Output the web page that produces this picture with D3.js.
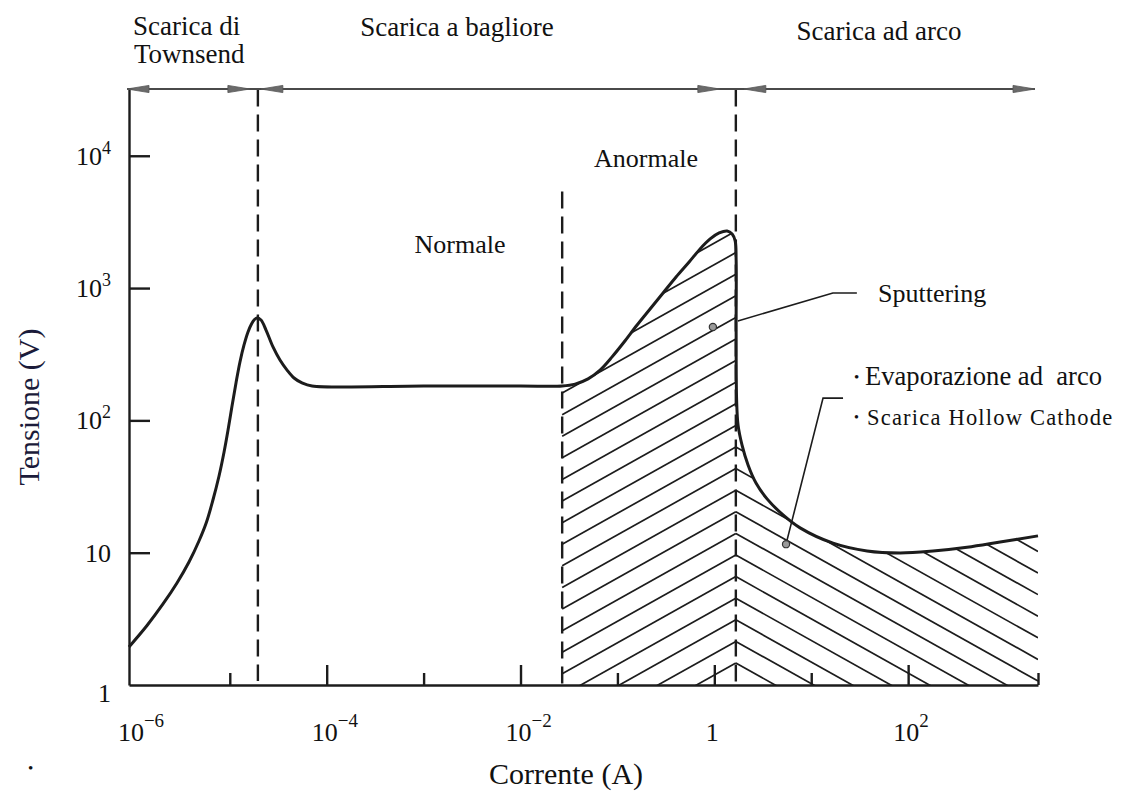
<!DOCTYPE html>
<html>
<head>
<meta charset="utf-8">
<script src="https://cdn.jsdelivr.net/npm/d3@7"></script>
<style>
  html, body { margin: 0; padding: 0; background: #fff; }
  svg { display: block; font-family: "Liberation Serif", "Times New Roman", serif; }
  text { fill: #111; }
</style>
</head>
<body>
<svg id="chart" width="1124" height="791"></svg>
<script>
// Voltage–current characteristic of a gas discharge (log–log).
// Current as powers of ten (A), voltage in volts.
const currentExp = [-6.04, -5.854, -5.689, -5.545, -5.421, -5.318, -5.240, -5.178, -5.111, -5.059,
                    -5.018, -4.977, -4.936, -4.895, -4.853, -4.812, -4.776, -4.745, -4.72,
                    -4.678, -4.626, -4.554, -4.482, -4.409, -4.337, -4.255, -4.151,
                    -3.0, -2.0, -1.57, -1.437, -1.303,
                    -1.179, -1.055, -0.931, -0.797, -0.663, -0.529, -0.395, -0.26, -0.147, -0.043,
                    0.05, 0.132, 0.184, 0.215, 0.225, 0.225, 0.23, 0.245, 0.286, 0.348,
                    0.43, 0.544, 0.709, 0.885, 1.225, 1.576, 1.919, 2.257, 2.608, 2.949,
                    3.34];
const voltage = [1.94, 2.817, 4.096, 5.902, 8.505, 12.26, 17.06, 24.38, 38.0, 57.7,
                 84.6, 128.5, 191.7, 276.4, 371.5, 465.8, 535.5, 579, 594,
                 574, 482, 359, 286, 240, 209, 192, 182,
                 182, 182, 182, 188, 206,
                 240, 302, 391, 526, 695, 918, 1213, 1575, 1976, 2351,
                 2608, 2703, 2563, 2270, 1631, 482, 143, 92, 65, 46,
                 33.6, 25.5, 19.3, 15.4, 11.8, 10.3, 9.95, 10.3, 11.0, 12.05,
                 13.4];

// Region boundaries (powers of ten of the current)
const boundaryExp = [-4.71, -1.57, 0.222];   // Townsend|glow, normal|abnormal, glow|arc

// Axis ticks
const xMajorExp = [-4, -2, 0, 2];
const xMinorExp = [-5, -3, -1, 1];
const xLabelExp = [-6, -4, -2, 0, 2];
const xLabelBase = ["10", "10", "10", "1", "10"];
const xLabelSup = ["\u22126", "\u22124", "\u22122", "", "2"];
const yTickValues = [1, 10, 100, 1000, 10000];
const yLabelBase = ["1", "10", "10", "10", "10"];
const yLabelSup = ["", "", "2", "3", "4"];

// Annotated points on the characteristic (current exponent, voltage)
const sputterPoint = [-0.015, 508];
const arcPoint = [0.74, 11.6];

const svg = d3.select("#chart");
const x = d3.scaleLog().domain([10 ** -6.04, 10 ** 3.34]).range([129, 1038]);
const y = d3.scaleLog().domain([1, 10 ** 4.5]).range([685, 89.6]);
const ink = "#1c1c1c";

const data = currentExp.map((e, i) => ({ I: 10 ** e, V: voltage[i] }));
const xB = boundaryExp.map(e => x(10 ** e));
const x0 = x.range()[0], x1 = x.range()[1];
const yBase = y.range()[0], yTop = y.range()[1];

// ---- clip: area under the characteristic ----
const curveType = d3.curveCatmullRom.alpha(0.5);
const area = d3.area().x(d => x(d.I)).y0(yBase).y1(d => y(d.V)).curve(curveType);
svg.append("defs").append("clipPath").attr("id", "under")
  .append("path").attr("d", area(data));

// ---- hatching (chevrons with apex on the glow/arc boundary) ----
const hatch = svg.append("g").attr("clip-path", "url(#under)")
  .attr("stroke", ink).attr("stroke-width", 1.7).attr("fill", "none");
const slope = 0.56, step = 21.6;
const apexX = xB[2];
for (let ay = yBase - 22; ay > yTop - 200; ay -= step) {
  hatch.append("line")
    .attr("x1", xB[1]).attr("y1", ay + slope * (apexX - xB[1]))
    .attr("x2", apexX).attr("y2", ay);
  hatch.append("line")
    .attr("x1", apexX).attr("y1", ay)
    .attr("x2", x1).attr("y2", ay + slope * (x1 - apexX));
}

// ---- dashed region boundaries ----
const dash = svg.append("g").attr("stroke", ink).attr("stroke-width", 2.4)
  .attr("stroke-dasharray", "17,8");
dash.append("line").attr("x1", xB[0]).attr("x2", xB[0]).attr("y1", yTop).attr("y2", yBase - 4);
dash.append("line").attr("x1", xB[1]).attr("x2", xB[1]).attr("y1", y(10 ** 3.73)).attr("y2", yBase);
dash.append("line").attr("x1", xB[2]).attr("x2", xB[2]).attr("y1", yTop).attr("y2", yBase);

// ---- axes ----
const xAxisMajor = d3.axisBottom(x)
  .tickValues(xMajorExp.map(e => 10 ** e))
  .tickSizeInner(-20).tickSizeOuter(0).tickFormat("");
const gx = svg.append("g").attr("transform", `translate(0,${yBase})`).call(xAxisMajor);
const xAxisMinor = d3.axisBottom(x)
  .tickValues(xMinorExp.map(e => 10 ** e).concat([x.domain()[1]]))
  .tickSizeInner(-12).tickSizeOuter(0).tickFormat("");
const gxm = svg.append("g").attr("transform", `translate(0,${yBase})`).call(xAxisMinor);
gxm.select(".domain").remove();

const yAxis = d3.axisLeft(y)
  .tickValues(yTickValues.filter(v => v > 1))
  .tickSizeInner(-21).tickSizeOuter(0).tickFormat("");
const gy = svg.append("g").attr("transform", `translate(${x0},0)`).call(yAxis);

[gx, gxm, gy].forEach(g => {
  g.selectAll("path, line").attr("stroke", ink).attr("stroke-width", 2.4);
});

// x tick labels: "10" centred on the tick, exponent raised to its right
xLabelExp.forEach((e, i) => {
  const t = svg.append("text").attr("y", 741).attr("font-size", 26);
  const base = t.append("tspan").text(xLabelBase[i]);
  if (xLabelSup[i]) {
    t.append("tspan").attr("dy", -14).attr("font-size", 19).text(xLabelSup[i]);
  }
  const w = base.node().getComputedTextLength();
  t.attr("x", x(10 ** e) - 2 - w / 2);
});

// y tick labels
yTickValues.forEach((v, i) => {
  const t = svg.append("text")
    .attr("x", 111).attr("y", y(v) + 9 + (v === 1 ? 8 : 0))
    .attr("font-size", 26).attr("text-anchor", "end");
  t.append("tspan").text(yLabelBase[i]);
  if (yLabelSup[i]) {
    t.append("tspan").attr("dy", -11).attr("font-size", 18).text(yLabelSup[i]);
  }
});

// ---- top bar with double-headed arrows spanning each regime ----
const barY = yTop - 0.6;
svg.append("line").attr("x1", x0 - 2).attr("x2", x1 - 3).attr("y1", barY).attr("y2", barY)
  .attr("stroke", "#4a4a4a").attr("stroke-width", 2);
function arrowHead(tipX, dir) {
  const len = 22, hw = 3.6;
  svg.append("path")
    .attr("d", `M${tipX},${barY} L${tipX - dir * len},${barY - hw} L${tipX - dir * len},${barY + hw} Z`)
    .attr("fill", "#6a6a6a").attr("stroke", "#555").attr("stroke-width", 0.8);
}
arrowHead(x0 - 2, -1);
arrowHead(xB[0] - 8, 1);
arrowHead(xB[0] + 3, -1);
arrowHead(xB[2] - 16, 1);
arrowHead(xB[2] + 8, -1);
arrowHead(x1 - 3, 1);

// ---- characteristic curve ----
const line = d3.line().x(d => x(d.I)).y(d => y(d.V)).curve(curveType);
svg.append("path").attr("d", line(data))
  .attr("fill", "none").attr("stroke", ink).attr("stroke-width", 3)
  .attr("stroke-linejoin", "round");

// ---- annotations ----
const sp = [x(10 ** sputterPoint[0]), y(sputterPoint[1])];
const ap = [x(10 ** arcPoint[0]), y(arcPoint[1])];
const lead = svg.append("g").attr("stroke", ink).attr("stroke-width", 1.6).attr("fill", "none");
lead.append("polyline").attr("points",
  [[xB[2] + 2, sp[1] - 6], [sp[0] + 120, sp[1] - 34], [sp[0] + 144, sp[1] - 34]].map(p => p.join(",")).join(" "));
lead.append("polyline").attr("points",
  [ap, [ap[0] + 37, ap[1] - 146], [ap[0] + 57, ap[1] - 146]].map(p => p.join(",")).join(" "));
[sp, ap].forEach(p => {
  svg.append("circle").attr("cx", p[0]).attr("cy", p[1]).attr("r", 3.6)
    .attr("fill", "#9a9a9a").attr("stroke", "#333").attr("stroke-width", 1.2);
});

// ---- text ----
function label(txt, px, py, size, anchor) {
  return svg.append("text").attr("x", px).attr("y", py)
    .attr("font-size", size).attr("text-anchor", anchor || "start").text(txt);
}
label("Scarica di", 133, 35, 27);
label("Townsend", 134, 63, 27);
label("Scarica a bagliore", 457, 36, 27, "middle");
label("Scarica ad arco", 879, 40, 27, "middle");
label("Normale", 460, 253, 26, "middle");
label("Anormale", 646, 167, 26, "middle");
label("Sputtering", 878, 302, 26);

const ev = svg.append("text").attr("y", 385).attr("font-size", 26.6).style("white-space", "pre");
ev.append("tspan").attr("x", 854).attr("font-size", 15).attr("dy", -3).text("\u2022");
ev.append("tspan").attr("x", 865).attr("dy", 3).text("Evaporazione ad  arco");
const hc = svg.append("text").attr("y", 425).attr("font-size", 22.5);
hc.append("tspan").attr("x", 854).attr("font-size", 14).attr("dy", -3).text("\u2022");
hc.append("tspan").attr("x", 867).attr("dy", 3).attr("letter-spacing", 1.2).text("Scarica Hollow Cathode");

svg.append("text").attr("transform", "translate(39,407) rotate(-90)")
  .attr("text-anchor", "middle").attr("font-size", 30).style("fill", "#1b1b3a").text("Tensione (V)");
label("Corrente (A)", 566, 784, 30, "middle");
label("\u2022", 28, 773, 15);
</script>
</body>
</html>
